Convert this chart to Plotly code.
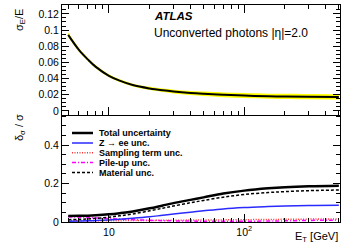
import math
import plotly.graph_objects as go
from plotly.subplots import make_subplots

# ---------------- data ----------------
energy = [5, 6, 7, 8, 10, 12, 15, 20, 25, 30, 40, 50, 70, 100, 150, 200, 300, 500]
resolution = [0.094, 0.0755, 0.0635, 0.0545, 0.0435, 0.0375, 0.0320, 0.0278, 0.0255, 0.0240,
              0.0222, 0.0212, 0.0200, 0.0190, 0.0182, 0.0179, 0.0176, 0.0174]
total_unc = [0.031, 0.032, 0.033, 0.035, 0.040, 0.046, 0.055, 0.071, 0.086, 0.098,
             0.115, 0.128, 0.148, 0.163, 0.175, 0.181, 0.186, 0.189]
zee_unc = [0.004, 0.005, 0.006, 0.008, 0.010, 0.014, 0.019, 0.027, 0.035, 0.041,
           0.051, 0.058, 0.068, 0.075, 0.080, 0.083, 0.086, 0.087]
sampling_unc = [0.006, 0.006, 0.006, 0.007, 0.007, 0.007, 0.008, 0.008, 0.009, 0.009,
                0.010, 0.010, 0.011, 0.012, 0.013, 0.014, 0.015, 0.016]
pileup_unc = [0.027, 0.025, 0.023, 0.021, 0.018, 0.015, 0.012, 0.009, 0.007, 0.006,
              0.005, 0.004, 0.004, 0.004, 0.005, 0.006, 0.008, 0.010]
material_unc = [0.012, 0.014, 0.016, 0.019, 0.025, 0.032, 0.042, 0.058, 0.072, 0.083,
                0.100, 0.112, 0.129, 0.143, 0.153, 0.158, 0.163, 0.166]

legend_names = ["Total uncertainty", "Z \u2192 ee unc.", "Sampling term unc.",
                "Pile-up unc.", "Material unc."]
x_tickvals = [10, 100]
x_ticktext = ["10", "10<sup>2</sup>"]
x_minor = [5, 6, 7, 8, 9, 20, 30, 40, 50, 60, 70, 80, 90, 200, 300, 400, 500]
y1_tickvals = [0, 0.02, 0.04, 0.06, 0.08, 0.1, 0.12]
y1_ticktext = ["0", "0.02", "0.04", "0.06", "0.08", "0.1", "0.12"]
y2_tickvals = [0, 0.2, 0.4]
y2_ticktext = ["0", "0.2", "0.4"]

# ---------------- figure ----------------
W, H = 361, 246
ml, mr, mt, mb = 62, 21, 5, 24
pw, ph = W - ml - mr, H - mt - mb
split = (222 - 115) / ph

fig = make_subplots(rows=2, cols=1, shared_xaxes=False, vertical_spacing=0,
                    row_heights=[1 - split, split])

band_hi = [r * (1 + t) for r, t in zip(resolution, total_unc)]
band_lo = [r * (1 - t) for r, t in zip(resolution, total_unc)]

fig.add_trace(go.Scatter(x=energy, y=band_hi, mode="lines", line=dict(width=0, color="#ffff00"),
                         line_shape="spline", showlegend=False, hoverinfo="skip"), row=1, col=1)
fig.add_trace(go.Scatter(x=energy, y=band_lo, mode="lines", line=dict(width=0, color="#ffff00"),
                         line_shape="spline", fill="tonexty", fillcolor="#ffff00",
                         showlegend=False, hoverinfo="skip"), row=1, col=1)
fig.add_trace(go.Scatter(x=energy, y=resolution, mode="lines", line_shape="spline",
                         line=dict(color="black", width=2), showlegend=False), row=1, col=1)

styles = [
    dict(color="black", width=2.5, dash="solid"),
    dict(color="#2a2aff", width=1.5, dash="solid"),
    dict(color="#ff3030", width=1.5, dash="1px,1.5px"),
    dict(color="#ff00ff", width=1.5, dash="4px,2px,1px,2px"),
    dict(color="black", width=1.5, dash="3px,2px"),
]
series = [total_unc, zee_unc, sampling_unc, pileup_unc, material_unc]
for idx in [2, 3, 1, 4, 0]:
    fig.add_trace(go.Scatter(x=energy, y=series[idx], mode="lines", line_shape="spline",
                             line=styles[idx], name=legend_names[idx], showlegend=False),
                  row=2, col=1)

font_family = "Liberation Sans, Arial, sans-serif"
tickfont = dict(family=font_family, size=10.5, color="black")

xr = [math.log10(4.5), math.log10(510)]
common_x = dict(type="log", range=xr, showline=True, linecolor="black", linewidth=1,
                ticks="inside", ticklen=8, tickcolor="black", tickwidth=1,
                tickvals=x_tickvals, showgrid=False, zeroline=False,
                minor=dict(tickvals=x_minor, ticks="inside", ticklen=4,
                           tickcolor="black", showgrid=False))
fig.update_xaxes(**common_x, mirror="ticks", showticklabels=False, row=1, col=1)
fig.update_xaxes(**common_x, mirror=False, ticktext=x_ticktext, showticklabels=True,
                 tickfont=tickfont, row=2, col=1)

fig.update_yaxes(range=[-0.005, 0.131], tickvals=y1_tickvals, ticktext=y1_ticktext,
                 showline=True, linecolor="black", linewidth=1, mirror="ticks",
                 ticks="inside", ticklen=7, tickcolor="black", showgrid=False, zeroline=False,
                 tickfont=tickfont,
                 minor=dict(dtick=0.005, tick0=0, ticks="inside", ticklen=4,
                            tickcolor="black", showgrid=False),
                 row=1, col=1)
fig.update_yaxes(range=[0, 0.556], tickvals=y2_tickvals, ticktext=y2_ticktext,
                 showline=True, linecolor="black", linewidth=1, mirror="ticks",
                 ticks="inside", ticklen=7, tickcolor="black", showgrid=False, zeroline=False,
                 tickfont=tickfont,
                 minor=dict(dtick=0.05, tick0=0, ticks="inside", ticklen=4,
                            tickcolor="black", showgrid=False),
                 row=2, col=1)

def px2x(px):
    return (px - ml) / pw

def py2y(py):
    return (H - mb - py) / ph

annotations = [
    dict(text="<b><i>ATLAS</i></b>", x=px2x(152), y=py2y(16), xanchor="left", yanchor="middle",
         font=dict(family=font_family, size=11.5, color="black")),
    dict(text="Unconverted photons |\u03b7|=2.0", x=px2x(152), y=py2y(33), xanchor="left",
         yanchor="middle", font=dict(family=font_family, size=12, color="black")),
    dict(text="\u03c3<sub>E</sub>/E", x=px2x(20), y=py2y(20), textangle=-90,
         xanchor="center", yanchor="middle", font=dict(family=font_family, size=11, color="black")),
    dict(text="\u03b4<sub>\u03c3</sub> / \u03c3", x=px2x(20), y=py2y(128), textangle=-90,
         xanchor="center", yanchor="middle", font=dict(family=font_family, size=11, color="black")),
    dict(text="E<sub>T</sub> [GeV]", x=1.0, y=py2y(228), xanchor="right", yanchor="top",
         font=dict(family=font_family, size=11, color="black")),
]
shapes = []
legend_y = [133, 143, 152.7, 162.5, 172.5]
for i, name in enumerate(legend_names):
    yy = py2y(legend_y[i])
    shapes.append(dict(type="line", xref="paper", yref="paper", x0=px2x(72), x1=px2x(93),
                       y0=yy, y1=yy, line=styles[i]))
    annotations.append(dict(text="<b>" + name + "</b>", x=px2x(97), y=yy, xanchor="left",
                            yanchor="middle",
                            font=dict(family=font_family, size=9, color="black")))
for a in annotations:
    a.update(xref="paper", yref="paper", showarrow=False)

fig.update_layout(width=W, height=H, margin=dict(l=ml, r=mr, t=mt, b=mb),
                  plot_bgcolor="white", paper_bgcolor="white", showlegend=False,
                  annotations=annotations, shapes=shapes)

fig.write_html("out.html", config={"displayModeBar": False},
               post_script="document.body.style.margin='0px';")
